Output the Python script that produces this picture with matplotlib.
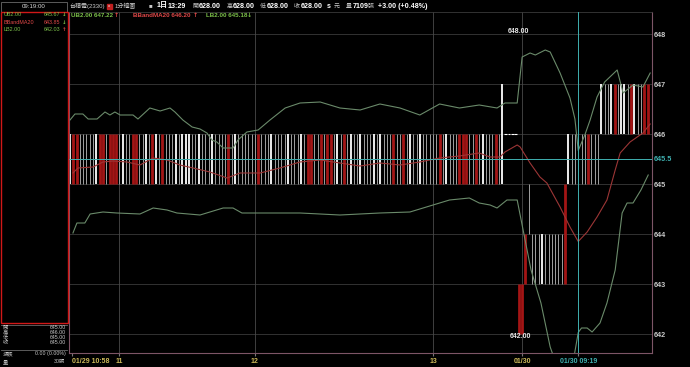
import matplotlib
matplotlib.use("Agg")
import matplotlib.pyplot as plt
import matplotlib.transforms as mtransforms
from matplotlib.patches import Rectangle

plt.rcParams["font.family"] = ["Liberation Sans", "Noto Sans CJK TC", "DejaVu Sans"]

# ---- data -------------------------------------------------------------
# day 1 candles: every bar spans 645-646, only the colour differs
day1_colors = (
    "wrrgggggwrrgrrrgwggrrggwgrwgrggg"
    "wgwwwggwgggwggggrgwggggggrgggwggg"
    "gwgggwgrrggrgrrgwgrgwggwgggwgwgggrggrgwggwgggggrgwgggrrrggrgwgggrg"
)
# day 2 candles (slots follow day 1)
day2_low = [645, 646, 646, 646, 646, 642, 642, 643, 644, 643, 643, 643, 643, 643, 643,
            643, 643, 643, 643, 643, 645, 645, 645, 645, 645, 645, 645, 645, 645, 645,
            646, 646, 646, 646, 646, 646, 646, 646, 646, 646, 646, 646, 646, 646, 646]
day2_high = [647, 646, 646, 646, 646, 643, 643, 644, 645, 644, 644, 644, 644, 644, 644,
             644, 644, 644, 644, 645, 646, 646, 646, 646, 646, 646, 646, 646, 646, 646,
             647, 647, 647, 647, 647, 647, 647, 647, 647, 647, 647, 647, 647, 647, 647]
day2_colors = "wwwwwrrrggggwggggggrwgggggrgggwggwrgwwgrwggrr"

ub_x = [0, 1.5, 3.9, 5.5, 8.2, 10.6, 12.1, 13.6, 15.2, 19.1, 20.6, 24.2, 27.3, 30.3, 31.8,
        34.2, 37, 39.4, 41.5, 43, 44.5, 46.4, 49.4, 50.9, 53.6, 57, 60.6, 65.2, 69.7, 75.8,
        81.8, 87.9, 93.9, 100, 106, 112, 118, 124, 129.4, 131.8, 135.5, 137, 139.4, 141,
        144, 145.5, 148.5, 151.5, 153, 154, 156, 157.6, 159.7, 162, 165.8, 167.6, 170.6,
        173.6, 175.8]
ub_y = [646.28, 646.40, 646.40, 646.30, 646.30, 646.44, 646.38, 646.44, 646.38, 646.38,
        646.30, 646.52, 646.46, 646.52, 646.44, 646.28, 646.14, 646.10, 646.02, 645.88,
        645.84, 645.72, 645.72, 645.88, 646.04, 646.08, 646.28, 646.52, 646.62, 646.64,
        646.52, 646.48, 646.60, 646.52, 646.38, 646.60, 646.52, 646.58, 646.52, 646.62,
        646.62, 647.54, 647.62, 647.58, 647.68, 647.64, 647.22, 646.72, 646.30, 645.67,
        645.98, 646.28, 646.74, 647.04, 647.28, 646.82, 646.98, 646.94, 647.22]

ma_x = [0.9, 2.4, 7, 10, 13, 17.3, 21.2, 25.2, 29.4, 33.3, 37.3, 42.4, 47.6, 51.5, 57.6,
        63.6, 69.7, 75.8, 81.8, 87.9, 93.9, 100, 106, 112, 118, 124, 127.3, 130.3, 131.8,
        135.5, 136.4, 139.4, 142.4, 144.5, 148.5, 151.5, 154, 156.7, 159.7, 162.7, 165.2,
        166.7, 169.7, 173.6, 175.8]
ma_y = [645.22, 645.32, 645.34, 645.44, 645.46, 645.44, 645.38, 645.52, 645.48, 645.38,
        645.32, 645.24, 645.12, 645.22, 645.22, 645.32, 645.44, 645.48, 645.42, 645.36,
        645.42, 645.38, 645.44, 645.52, 645.56, 645.62, 645.54, 645.54, 645.64, 645.78,
        645.74, 645.42, 645.14, 645.02, 644.54, 644.14, 643.85, 644.04, 644.34, 644.68,
        645.28, 645.62, 645.84, 646.02, 646.20]

lb_x = [0.9, 2.1, 4.5, 6.1, 10, 14.2, 21.2, 25.2, 29.4, 32.4, 39.4, 46.4, 49.4, 52.1, 57.6,
        69.7, 81.8, 93.9, 103, 109, 115, 121, 124, 127.3, 129.4, 132.4, 135.5, 137.3, 139.7,
        142.7, 145.5, 148.5, 151.5, 154, 155, 156.7, 158.2, 160.6, 162.7, 165.2, 167.3,
        168.8, 170.6, 173, 175.2]
lb_y = [644.02, 644.22, 644.22, 644.40, 644.44, 644.42, 644.40, 644.52, 644.48, 644.42,
        644.38, 644.52, 644.52, 644.42, 644.42, 644.42, 644.38, 644.42, 644.44, 644.56,
        644.68, 644.72, 644.62, 644.58, 644.52, 644.68, 644.68, 644.08, 643.28, 642.62,
        641.74, 641.18, 641.08, 642.03, 642.12, 642.12, 642.04, 642.22, 642.62, 643.28,
        644.42, 644.62, 644.62, 644.88, 645.18]

price_ticks = [642, 643, 644, 645, 646, 647, 648]
time_ticks = [0.5, 15, 56, 110, 137]
time_labels = ["01/29 10:58", "11", "12", "13", "01/30"]
cross_slot = 154
cross_price = 645.5
high_mark = (136, 648.06, "648.00")
low_mark = (136.5, 641.96, "642.00")

# ---- styles -------------------------------------------------------------
BG = "#000000"
GRID = "#3a3a3a"
BORDER = "#7d5566"
CYAN = "#3fb0b0"
YELLOW = "#cdb95a"
BAND = "#6a8a6a"
MA_COL = "#9c3636"
CANDLE = {"w": ("#ffffff", 1.3), "r": ("#a31515", 2.0), "g": ("#a0a0a0", 0.7)}

fig = plt.figure(figsize=(6.9, 3.67), dpi=100, facecolor=BG)
ax = fig.add_axes([69 / 690, 14 / 367, 582.5 / 690, 341 / 367])
ax.set_facecolor(BG)
ax.set_xlim(-0.3, 176.2)
ax.set_ylim(641.62, 648.44)

for p in price_ticks:
    ax.axhline(p, color=GRID, lw=0.6, zorder=0)
for t in time_ticks[1:]:
    ax.axvline(t, color="#4a4a4a", lw=0.6, zorder=0)

# candles
n1 = len(day1_colors)
slots = list(range(n1 + len(day2_colors)))
lows = [645] * n1 + day2_low
highs = [646] * n1 + day2_high
cols = day1_colors + day2_colors
for code, (c, lw) in CANDLE.items():
    xs = [s for s in slots if cols[s] == code and lows[s] != highs[s]]
    ax.vlines(xs, [lows[s] for s in xs], [highs[s] for s in xs], colors=c, lw=lw, zorder=2)
    dj = [s for s in slots if cols[s] == code and lows[s] == highs[s]]
    if dj:
        ax.hlines([lows[s] for s in dj], [s - 0.4 for s in dj], [s + 0.4 for s in dj],
                  colors=c, lw=0.8, zorder=2)

ax.plot(ub_x, ub_y, color=BAND, lw=0.8, zorder=3)
ax.plot(lb_x, lb_y, color=BAND, lw=0.8, zorder=3)
ax.plot(ma_x, ma_y, color=MA_COL, lw=0.8, zorder=3)

ax.axhline(cross_price, color=CYAN, lw=0.7, zorder=4)
ax.axvline(cross_slot, color=CYAN, lw=0.7, zorder=4)

for x, y, s in (high_mark, low_mark):
    ax.text(x, y, s, color="#e8e8e8", fontsize=5, fontweight="bold", ha="center", va="center", zorder=5)

ax.yaxis.tick_right()
ax.set_yticks(price_ticks)
ax.set_yticklabels([str(p) for p in price_ticks])
ax.tick_params(axis="y", length=0, pad=1.5, labelsize=5.2, labelcolor="#c8c8c8")
for lab in ax.get_yticklabels():
    lab.set_fontweight("bold")
trans = mtransforms.blended_transform_factory(ax.transAxes, ax.transData)
ax.text(1.0035, cross_price, "645.5", transform=trans, color=CYAN, fontsize=5.2,
        fontweight="bold", va="center", ha="left")

ax.set_xticks(time_ticks + [cross_slot])
ax.set_xticklabels(time_labels + ["01/30 09:19"])
ax.tick_params(axis="x", length=2, pad=1.5, labelsize=5, color="#777777", labelcolor=YELLOW)
xl = ax.get_xticklabels()
xl[0].set_ha("left")
for lab in xl:
    lab.set_fontweight("bold")
xl[-1].set_color(CYAN)

for side in ["left", "right", "bottom"]:
    ax.spines[side].set_color(BORDER)
    ax.spines[side].set_linewidth(0.8)
ax.spines["top"].set_color(GRID)
ax.spines["top"].set_linewidth(0.6)

# ---- overlay in pixel coordinates: header, legend, side panel -----------
ui = fig.add_axes([0, 0, 1, 1], zorder=10)
ui.set_xlim(0, 690)
ui.set_ylim(367, 0)
ui.axis("off")

hdr = [
    (69, "台積電(2330)", "#c8c8c8", "normal"),
    (115, "1分鐘圖", "#c8c8c8", "normal"),
    (149, "■", "#c8c8c8", "normal"),
    (157, "1日", "#ffffff", "bold"),
    (168, "13:29", "#ffffff", "bold"),
    (192.5, "開", "#c8c8c8", "normal"),
    (199, "628.00", "#ffffff", "bold"),
    (226.5, "高", "#c8c8c8", "normal"),
    (233, "628.00", "#ffffff", "bold"),
    (260, "低", "#c8c8c8", "normal"),
    (267, "628.00", "#ffffff", "bold"),
    (294, "收", "#c8c8c8", "normal"),
    (301, "628.00", "#ffffff", "bold"),
    (327, "s", "#ffffff", "bold"),
    (334, "元", "#c8c8c8", "normal"),
    (346, "量", "#c8c8c8", "normal"),
    (353, "7109", "#ffffff", "bold"),
    (368, "張", "#c8c8c8", "normal"),
    (378, "+3.00 (+0.48%)", "#ffffff", "bold"),
]
for x, s, c, w in hdr:
    ui.text(x, 6, s, color=c, fontsize=5.1 if w == "bold" else 4.3, fontweight=w,
            va="center", ha="left")
ui.add_patch(Rectangle((107, 3.5), 5, 5, color="#c02020"))
ui.text(109.5, 6, "x", color="white", fontsize=3.2, ha="center", va="center")

GREEN_T = "#7cc04a"
RED_T = "#e04848"
leg = [
    (71, "UB2.00 647.22", GREEN_T, 113.5, "↑", RED_T),
    (133, "BBandMA20 646.20", RED_T, 193, "↑", RED_T),
    (206, "LB2.00 645.18", GREEN_T, 246.5, "↓", GREEN_T),
]
for x, s, c, ax_, arr, ac in leg:
    ui.text(x, 15.5, s, color=c, fontsize=4.5, fontweight="bold", va="center", ha="left")
    ui.text(ax_, 15.5, arr, color=ac, fontsize=4.5, fontweight="bold", va="center", ha="left",
            family="DejaVu Sans")

# side panel
ui.add_patch(Rectangle((1, 1.5), 66, 10, fill=False, ec="#6a6a6a", lw=0.6))
ui.text(34, 6.5, "09:19:00", color="#d8d8d8", fontsize=4.4, ha="center", va="center")
ui.add_patch(Rectangle((1, 12), 66.5, 311, fill=False, ec="#d01818", lw=1.0))
side = [
    (15, "UB2.00", "645.67", "↓", GREEN_T, GREEN_T),
    (22.3, "BBandMA20", "643.85", "↓", RED_T, GREEN_T),
    (29.3, "LB2.00", "642.03", "↑", GREEN_T, RED_T),
]
for y, name, val, arr, c, ac in side:
    ui.text(3.5, y, name, color=c, fontsize=3.9, va="center", ha="left")
    ui.text(60, y, val, color=c, fontsize=3.9, va="center", ha="right")
    ui.text(61.5, y, arr, color=ac, fontsize=3.9, fontweight="bold", va="center", ha="left",
            family="DejaVu Sans")

ui.plot([1, 67], [325, 325], color="#6a6a6a", lw=0.6)
ui.plot([1, 67], [349.5, 349.5], color="#6a6a6a", lw=0.6)
info = [(327.8, "開", "645.00"), (332.8, "高", "646.00"), (337.9, "低", "645.00"),
        (343, "收", "645.00"), (353.8, "漲跌", "0.00 (0.00%)"), (361.6, "量", "30張")]
for y, k, v in info:
    ui.text(3, y, k, color="#c8c8c8", fontsize=3.8, va="center", ha="left")
    ui.text(65.5, y, v, color="#c8c8c8", fontsize=3.8, va="center", ha="right")

fig.savefig("out.png", dpi=100, facecolor=BG)
